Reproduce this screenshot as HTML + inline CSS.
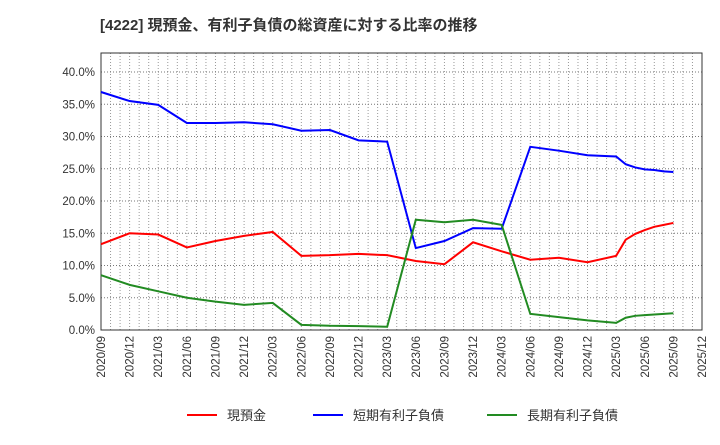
<!DOCTYPE html>
<html><head><meta charset="utf-8"><style>
body{margin:0;background:#fff;width:720px;height:440px;overflow:hidden}
svg{font-family:"Liberation Sans","Noto Sans CJK JP",sans-serif}
</style></head><body>
<svg id="c" width="720" height="440">
<text x="100" y="30" font-size="15" font-weight="bold" fill="#333">[4222]  現預金、有利子負債の総資産に対する比率の推移</text>
</svg>
<script>
const xLabels=["2020/09","2020/12","2021/03","2021/06","2021/09","2021/12","2022/03","2022/06","2022/09","2022/12","2023/03","2023/06","2023/09","2023/12","2024/03","2024/06","2024/09","2024/12","2025/03","2025/06","2025/09","2025/12"];
const yTicks=[0,5,10,15,20,25,30,35,40];
const months=[0,3,6,9,12,15,18,21,24,27,30,33,36,39,42,45,48,51,54,55,56,57,58,59,60];
const cash=[13.3,15.0,14.8,12.8,13.8,14.6,15.2,11.5,11.6,11.8,11.6,10.7,10.2,13.6,12.2,10.9,11.2,10.5,11.5,14.0,14.9,15.5,16.0,16.3,16.6];
const shortDebt=[36.9,35.5,34.9,32.1,32.1,32.2,31.9,30.9,31.0,29.4,29.2,12.7,13.8,15.8,15.7,28.4,27.8,27.1,26.9,25.7,25.2,24.9,24.8,24.6,24.5];
const longDebt=[8.5,7.0,6.0,5.0,4.4,3.9,4.2,0.8,0.65,0.6,0.5,17.1,16.7,17.1,16.3,2.5,2.0,1.5,1.1,1.9,2.2,2.3,2.4,2.5,2.6];
const seriesNames=["現預金","短期有利子負債","長期有利子負債"];
const L=101,R=702,T=53,B=330;
const xs=m=>L+m*(R-L)/63;
const ys=v=>B-v*(B-72)/40;
const svg=document.getElementById('c');
const NS="http://www.w3.org/2000/svg";
function mk(t,a){const e=document.createElementNS(NS,t);for(const k in a)e.setAttribute(k,a[k]);svg.appendChild(e);return e;}
const bg=mk('rect',{x:L,y:T,width:R-L,height:B-T,fill:'#fff',stroke:'#333','stroke-width':1});


for(let m=1;m<63;m++){const g=mk('line',{x1:xs(m),x2:xs(m),y1:T,y2:B,stroke:'#999','stroke-dasharray':'1,2','stroke-width':1});

}
yTicks.forEach(v=>{
 if(v>0){const g=mk('line',{x1:L,x2:R,y1:ys(v),y2:ys(v),stroke:'#777','stroke-dasharray':'1,2'});
 
 }
 const t=mk('text',{x:L-6,y:ys(v)+4,'text-anchor':'end','font-size':11.5,fill:'#333'});t.textContent=v.toFixed(1)+'%';
 
 
});
xLabels.forEach((s,i)=>{const x=xs(i*3);const t=mk('text',{x:x+4,y:B+6,'text-anchor':'end','font-size':11.5,fill:'#333',transform:`rotate(-90 ${x+4} ${B+6})`});t.textContent=s;
 
 });
mk('rect',{x:L,y:T,width:R-L,height:B-T,fill:'none',stroke:'#333'});
const cols=['#ff0000','#0000ff','#228b22'];
[cash,shortDebt,longDebt].forEach((d,k)=>{
 const p=mk('polyline',{points:d.map((v,i)=>xs(months[i])+','+ys(v)).join(' '),fill:'none',stroke:cols[k],'stroke-width':2});
 
 
});
const lx=[187,313,487];
seriesNames.forEach((n,k)=>{
 const l=mk('line',{x1:lx[k],x2:lx[k]+30,y1:415,y2:415,stroke:cols[k],'stroke-width':2});
 
 
 const t=mk('text',{x:lx[k]+40,y:420,'font-size':13,fill:'#333'});t.textContent=n;
 
 
});
</script>
</body></html>
